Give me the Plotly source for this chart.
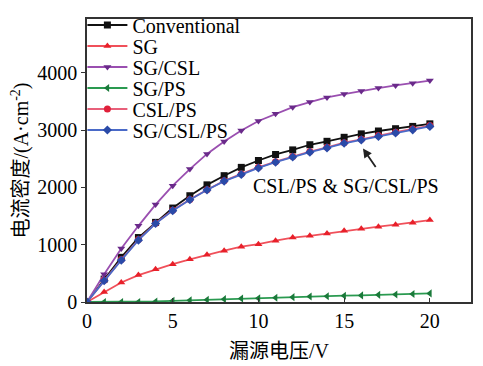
import plotly.graph_objects as go

voltage = list(range(0, 21))

conventional = [0, 400, 780, 1125, 1390, 1640, 1855, 2045, 2205, 2350, 2470,
                2575, 2655, 2745, 2805, 2875, 2935, 2985, 3025, 3065, 3110]
sg = [0, 175, 340, 470, 570, 660, 745, 825, 895, 965, 1010,
      1070, 1125, 1155, 1195, 1245, 1280, 1315, 1350, 1385, 1430]
sg_csl = [0, 485, 935, 1330, 1700, 2030, 2320, 2585, 2800, 2995, 3160,
          3285, 3400, 3490, 3570, 3630, 3685, 3735, 3780, 3820, 3865]
sg_ps = [0, 0, 0, 0, 10, 20, 30, 40, 50, 60, 65,
         75, 85, 95, 100, 110, 115, 125, 130, 140, 150]
csl_ps = [0, 380, 740, 1090, 1375, 1600, 1790, 1960, 2115, 2235, 2350,
          2450, 2540, 2625, 2700, 2780, 2840, 2905, 2965, 3020, 3080]
sg_csl_ps = [0, 370, 730, 1080, 1370, 1595, 1785, 1955, 2110, 2225, 2340,
             2440, 2530, 2615, 2690, 2770, 2830, 2890, 2950, 3005, 3065]

series = [
    ("Conventional", conventional, "#111111", "#111111", "square"),
    ("SG", sg, "#f0505a", "#e8202a", "triangle-up"),
    ("SG/CSL", sg_csl, "#9a4fb0", "#6a2a8a", "triangle-down"),
    ("SG/PS", sg_ps, "#2a9a50", "#1a7a3a", "triangle-left"),
    ("CSL/PS", csl_ps, "#e8607a", "#e0203a", "circle"),
    ("SG/CSL/PS", sg_csl_ps, "#4a6ac8", "#2a4aa8", "diamond"),
]

serif = "'Liberation Serif', 'Times New Roman', serif"
font_family = "'Liberation Serif', 'Times New Roman', 'Noto Sans CJK SC', serif"

# page body has an 8px default margin, so the figure is sized to fit the window
W, H = 475, 358
ML, MR, MT, MB = 79, 12, 11, 64
plot_h = H - MT - MB

fig = go.Figure()
legend_layouts = {}
for i, (name, vals, lc, mc, sym) in enumerate(series):
    key = "legend" if i == 0 else f"legend{i + 1}"
    fig.add_trace(go.Scatter(
        x=voltage, y=vals, name=name, mode="lines+markers",
        line=dict(color=lc, width=1.8),
        marker=dict(color=mc, symbol=sym, size=7),
        legend=key,
    ))
    row_center = 17 + 21 * i
    legend_layouts[key] = dict(
        x=-0.012, y=(H - MB - row_center) / plot_h,
        xanchor="left", yanchor="middle",
        bgcolor="rgba(0,0,0,0)", borderwidth=0,
        font=dict(size=20, family=serif, color="black"),
        tracegroupgap=0, itemwidth=40,
    )

fig.add_annotation(
    x=16.1, y=2680, ax=16.9, ay=2330, xref="x", yref="y", axref="x", ayref="y",
    text="", showarrow=True, arrowhead=2, arrowsize=1, arrowwidth=1.8,
    arrowcolor="#222222",
)
fig.add_annotation(
    x=15.1, y=2030, xref="x", yref="y", text="CSL/PS & SG/CSL/PS",
    showarrow=False, font=dict(size=20, color="black", family=serif),
)

axis_common = dict(
    showline=True, linecolor="#333333", linewidth=1.5, mirror=True,
    showgrid=False, zeroline=False, ticklen=4, tickcolor="#333333",
    automargin=False,
    tickfont=dict(size=20, color="black", family=serif),
)

fig.update_layout(
    width=W, height=H,
    margin=dict(l=ML, r=MR, t=MT, b=MB, autoexpand=False),
    paper_bgcolor="white", plot_bgcolor="white",
    font=dict(family=font_family, color="black", size=20),
    showlegend=True,
    xaxis=dict(
        range=[0, 22.4], tickvals=[0, 5, 10, 15, 20], ticks="inside",
        title=dict(text="漏源电压/V", font=dict(size=20, family=font_family), standoff=13),
        **axis_common,
    ),
    yaxis=dict(
        range=[0, 4940], tickvals=[0, 1000, 2000, 3000, 4000], ticks="outside",
        title=dict(text="电流密度/(A·cm<sup>-2</sup>)", font=dict(size=20, family=font_family), standoff=10),
        **axis_common,
    ),
    **legend_layouts,
)

fig.write_html("out.html")
